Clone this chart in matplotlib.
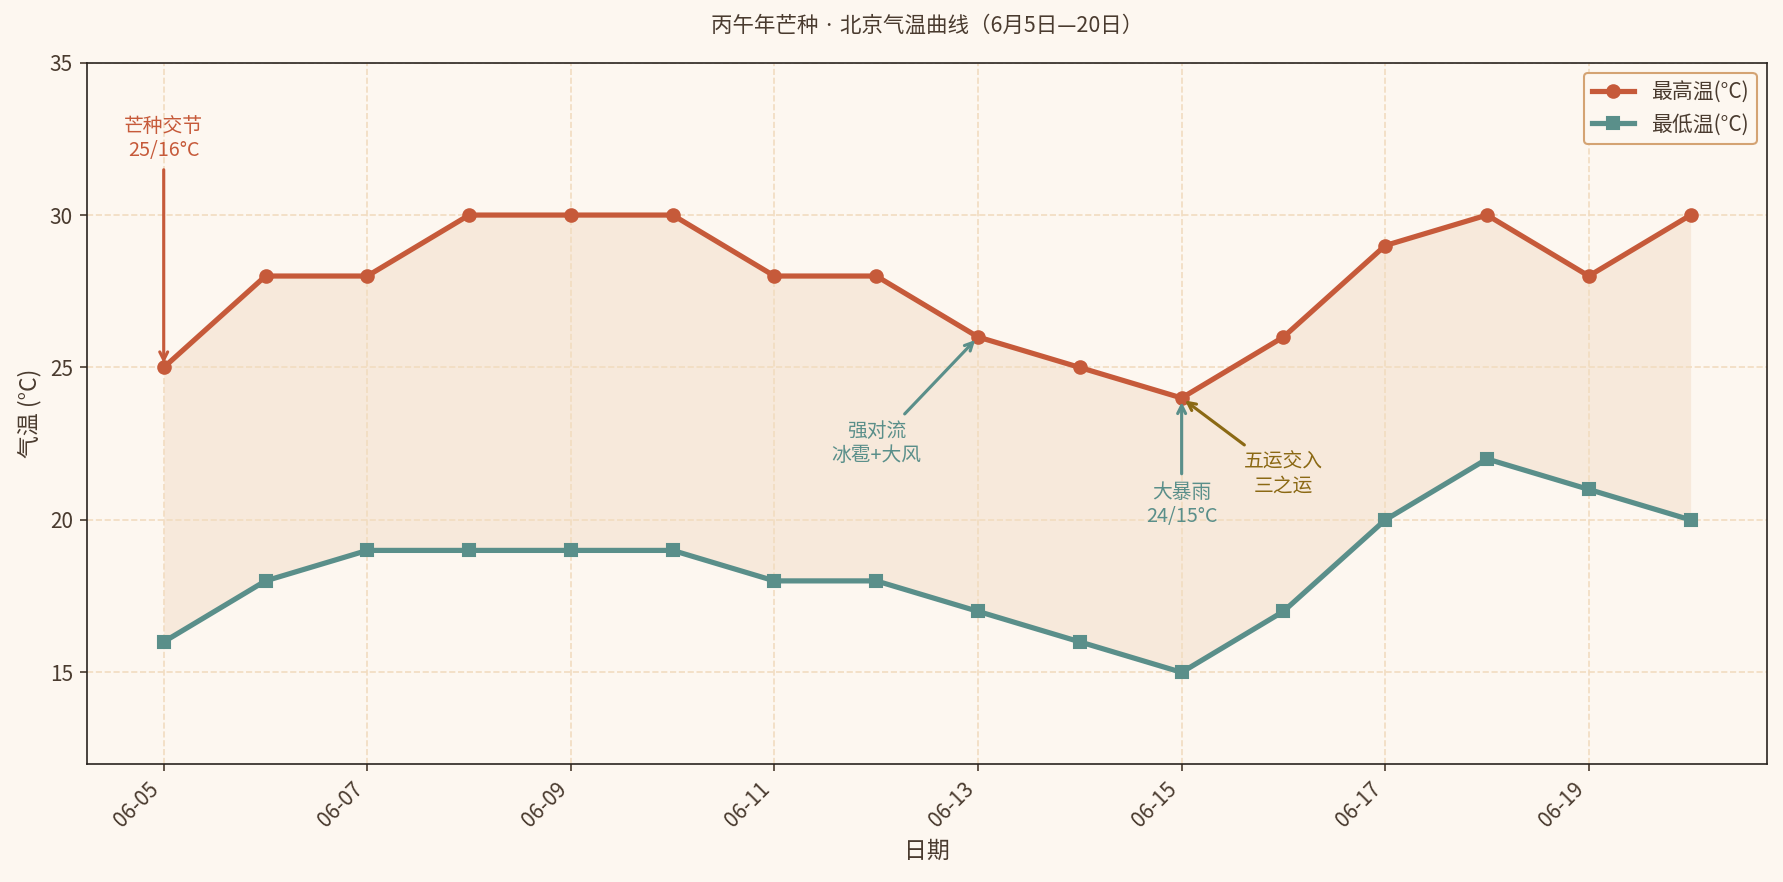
import pandas as pd
import matplotlib.pyplot as plt
import matplotlib.dates as mdates

plt.rcParams['font.family'] = ['Noto Sans CJK SC', 'DejaVu Sans']

# data
dates = pd.date_range('2026-06-05', '2026-06-20', freq='D')
high = [25, 28, 28, 30, 30, 30, 28, 28, 26, 25, 24, 26, 29, 30, 28, 30]
low = [16, 18, 19, 19, 19, 19, 18, 18, 17, 16, 15, 17, 20, 22, 21, 20]

bg = '#FDF7F0'
txt = '#4A3B2F'
red = '#C65A3A'
teal = '#5A8F8A'
gold = '#8B6914'

fig = plt.figure(figsize=(1783 / 150, 882 / 150), dpi=150, facecolor=bg)
ax = fig.add_axes([0.049, 0.134, 0.942, 0.795])
ax.set_facecolor(bg)

ax.fill_between(dates, low, high, color='#F2DCC8', alpha=0.5, lw=0, zorder=1)
ax.plot(dates, high, color=red, lw=2.5, marker='o', ms=6, label='最高温(°C)', zorder=3)
ax.plot(dates, low, color=teal, lw=2.5, marker='s', ms=6, label='最低温(°C)', zorder=3)

ax.set_ylim(12, 35)
ax.grid(True, ls='--', color='#F2DCC0', lw=0.8, zorder=0)
ax.xaxis.set_major_locator(mdates.DayLocator(interval=2))
ax.xaxis.set_major_formatter(mdates.DateFormatter('%m-%d'))
plt.setp(ax.get_xticklabels(), rotation=45, ha='right')
ax.tick_params(colors=txt, labelsize=10)
for s in ax.spines.values():
    s.set_color('#2A2420')

ax.set_xlabel('日期', color=txt, fontsize=11)
ax.set_ylabel('气温 (°C)', color=txt, fontsize=11)
ax.set_title('丙午年芒种 · 北京气温曲线（6月5日—20日）', color=txt, fontsize=10.3, pad=15,
             family=['Noto Sans CJK JP', 'DejaVu Sans'])

d = lambda s: pd.Timestamp('2026-' + s)

ax.annotate('芒种交节\n25/16°C', xy=(d('06-05'), 25), xytext=(d('06-05'), 32.5),
            ha='center', va='center', fontsize=9.5, color=red,
            arrowprops=dict(arrowstyle='->', color=red, lw=1.5))
ax.annotate('强对流\n冰雹+大风', xy=(d('06-13'), 26), xytext=(d('06-12'), 22.5),
            ha='center', va='center', fontsize=9.5, color=teal,
            arrowprops=dict(arrowstyle='->', color=teal, lw=1.5))
ax.annotate('大暴雨\n24/15°C', xy=(d('06-15'), 24), xytext=(d('06-15'), 20.5),
            ha='center', va='center', fontsize=9.5, color=teal,
            arrowprops=dict(arrowstyle='->', color=teal, lw=1.5))
ax.annotate('五运交入\n三之运', xy=(d('06-15'), 24), xytext=(d('06-16'), 21.5),
            ha='center', va='center', fontsize=9.5, color=gold,
            arrowprops=dict(arrowstyle='->', color=gold, lw=1.5))

leg = ax.legend(loc='upper right', fontsize=10, facecolor=bg, edgecolor='#D4A373', framealpha=1)
for t in leg.get_texts():
    t.set_color(txt)

fig.savefig('out.png', dpi=150, facecolor=bg)
